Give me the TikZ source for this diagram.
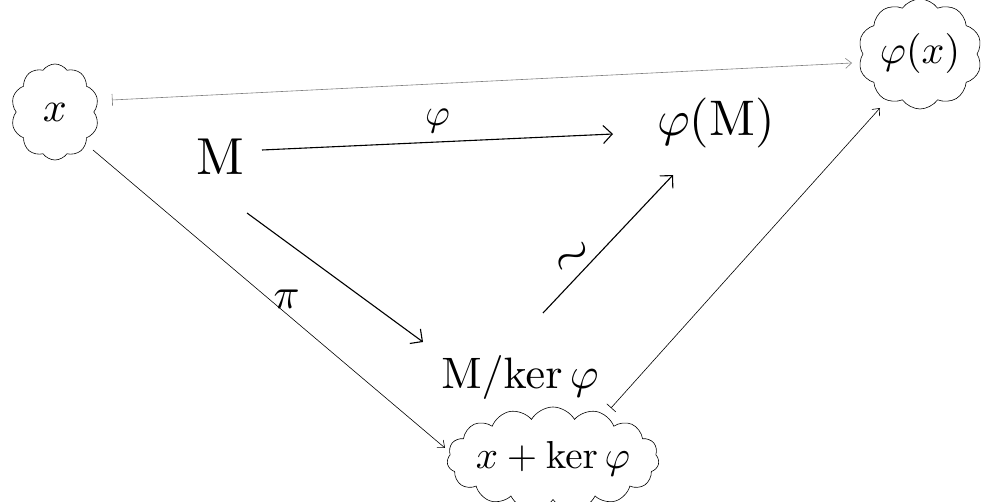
\documentclass[tikz,border=0pt]{standalone}
\usepackage{graphicx}
\usetikzlibrary{shapes.symbols,arrows.meta}
\begin{document}
\begin{tikzpicture}[x=1pt,y=-1pt,
  blob/.style={cloud, draw, cloud puffs=10, cloud puff arc=110, line width=0.6pt, inner sep=0pt},
  obj/.style={inner sep=2pt},
  mor/.style={line width=1.1pt, -{Straight Barb[length=9pt,width=18pt]}},
  elt/.style={line width=0.6pt, -{Straight Barb[length=6pt,width=10pt]}},
  eltbar/.style={line width=0.6pt, {Bar[width=12pt]}-{Straight Barb[length=6pt,width=10pt]}},
  lab/.style={inner sep=1pt},
]
\useasboundingbox (0,0) rectangle (983,502);
% nodes
\node[blob, minimum width=88pt, minimum height=96pt,
  label=center:{\scalebox{4.2}{$x$}}] (xc) at (55,112) {};
\node[blob, minimum width=124pt, minimum height=110pt,
  label=center:{\scalebox{4}{$\varphi(x)$}}] (phix) at (920,54) {};
\node[blob, cloud puffs=15, cloud puff arc=120, minimum width=212pt, minimum height=104pt,
  label=center:{\scalebox{3.9}{$x+\mathrm{ker}\,\varphi$}}] (xk) at (553,459) {};
\node[obj] (M) at (220,157) {\scalebox{5.2}{$\mathrm{M}$}};
\node[obj] (phiM) at (716,123) {\scalebox{5}{$\varphi(\mathrm{M})$}};
\node[obj] (Mk) at (520,378) {\scalebox{4.4}{$\mathrm{M}/\mathrm{ker}\,\varphi$}};
% morphisms
\draw[mor] ([shift={(42,-7)}]M.center) -- ([shift={(-103,11)}]phiM.center)
  node[lab, midway, above=8pt] {\scalebox{3.8}{$\varphi$}};
\draw[mor] ([shift={(27,56)}]M.center) -- ([shift={(-97,-36)}]Mk.center);
\draw[mor] ([shift={(23,-65)}]Mk.center) -- ([shift={(-43,52)}]phiM.center)
  node[lab, pos=0.48, left=14pt, rotate=35] {\scalebox{5}{$\sim$}};
% elements
\draw[eltbar, gray] ([shift={(57,-12)}]xc.center) -- ([shift={(-68,9)}]phix.center);
\draw[elt] ([shift={(38,38)}]xc.center) -- ([shift={(-108,-11)}]xk.center)
  node[lab, pos=0.55, above=4pt] {\scalebox{4.3}{$\pi$}};
\draw[eltbar] ([shift={(58,-51)}]xk.center) -- ([shift={(-40,54)}]phix.center);
\end{tikzpicture}
\end{document}
